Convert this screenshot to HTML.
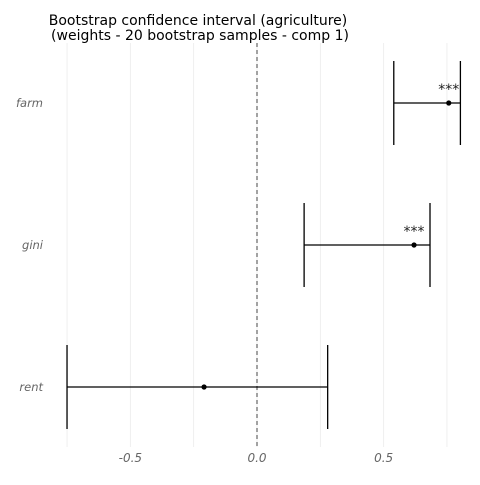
<!DOCTYPE html>
<html><head><meta charset="utf-8"><style>
body{margin:0;background:#fff;}
svg text{font-family:"DejaVu Sans","Liberation Sans",sans-serif;}
</style></head><body>
<svg id="chart" width="480" height="480" xmlns="http://www.w3.org/2000/svg">
<text x="198" y="25" font-size="14" text-anchor="middle" fill="#000">Bootstrap confidence interval (agriculture)</text>
<text x="200" y="40" font-size="14" text-anchor="middle" fill="#000"> (weights - 20 bootstrap samples - comp 1)</text>
<g id="grid"></g><g id="marks"></g><g id="axes"></g>
</svg>
<script>
const categories = ["farm","gini","rent"];
const lowers = [0.54, 0.186, -0.75];
const uppers = [0.803, 0.683, 0.279];
const estimates = [0.757, 0.62, -0.209];
const stars = ["***","***",""];
const xTicks = [-0.5, 0.0, 0.5];
const xTickLabels = ["-0.5","0.0","0.5"];
const gridVals = [-0.75,-0.5,-0.25,0,0.25,0.5,0.75];

const NS="http://www.w3.org/2000/svg";
const x = v => 257 + v*253.3;
const rowY = [103, 245, 387];
const y = i => rowY[0] + i*(rowY[2]-rowY[0])/(categories.length-1);
function mk(tag, attrs, parent){const e=document.createElementNS(NS,tag);for(const k in attrs)e.setAttribute(k,attrs[k]);document.getElementById(parent).appendChild(e);return e;}

gridVals.forEach(g=>{
  const l=mk('line',{x1:x(g),x2:x(g),y1:43,y2:447,stroke:'#ebebeb','stroke-width':0.8},'grid');
  
  
});
const zl=mk('line',{x1:x(0),x2:x(0),y1:43,y2:447,stroke:'#444','stroke-width':1,'stroke-dasharray':'4,3'},'grid');



categories.forEach((c,i)=>{
  const yy=y(i);
  const h=mk('line',{x1:x(lowers[i]),x2:x(uppers[i]),y1:yy,y2:yy,stroke:'#000','stroke-width':1.2},'marks');
  
  
  const a=mk('line',{x1:x(lowers[i]),x2:x(lowers[i]),y1:yy-42,y2:yy+42,stroke:'#000','stroke-width':1.3},'marks');
  
  
  const b=mk('line',{x1:x(uppers[i]),x2:x(uppers[i]),y1:yy-42,y2:yy+42,stroke:'#000','stroke-width':1.3},'marks');
  
  
  const p=mk('circle',{cx:x(estimates[i]),cy:yy,r:2.6,fill:'#000'},'marks');
  
  
  if(stars[i]){
    const s=mk('text',{x:x(estimates[i]),y:yy-9,'font-size':14,'text-anchor':'middle',fill:'#222'},'marks');
    s.textContent=stars[i];
    
    
  }
  const t=mk('text',{x:43,y:yy+4,'font-size':11.5,'text-anchor':'end',fill:'#666','font-style':'italic'},'axes');
  t.textContent=c;
  
  
});
xTicks.forEach((v,i)=>{
  const t=mk('text',{x:x(v),y:462,'font-size':12,'text-anchor':'middle',fill:'#666','font-style':'italic'},'axes');
  t.textContent=xTickLabels[i];
  
  
});
</script>
</body></html>
